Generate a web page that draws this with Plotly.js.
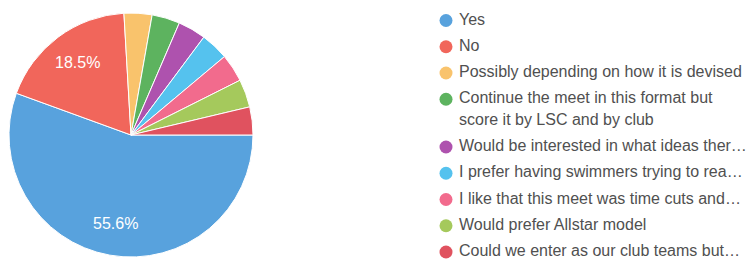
<!DOCTYPE html>
<html>
<head>
<meta charset="utf-8">
<script src="https://cdn.plot.ly/plotly-3.0.1.min.js"></script>
<style>html,body{margin:0;padding:0;background:#fff;}#chart{width:754px;height:259px;}</style>
</head>
<body>
<div id="chart"></div>
<script>
// ---- data ----
const categories = [
  "Yes",
  "No",
  "Possibly depending on how it is devised",
  "Continue the meet in this format but score it by LSC and by club",
  "Would be interested in what ideas there are",
  "I prefer having swimmers trying to reach cuts",
  "I like that this meet was time cuts and...",
  "Would prefer Allstar model",
  "Could we enter as our club teams but..."
];
const legendLabels = [
  "Yes",
  "No",
  "Possibly depending on how it is devised",
  "Continue the meet in this format but<br>score it by LSC and by club",
  "Would be interested in what ideas ther\u2026",
  "I prefer having swimmers trying to rea\u2026",
  "I like that this meet was time cuts and\u2026",
  "Would prefer Allstar model",
  "Could we enter as our club teams but\u2026"
];
const responses = [15, 5, 1, 1, 1, 1, 1, 1, 1];
const colors = ["#58a2dd", "#f1665b", "#f9c36c", "#5db35f", "#ae52ae", "#55c2ee", "#f26b8d", "#a5c95c", "#e0525f"];

// ---- chart ----
const total = responses.reduce((a, b) => a + b, 0);

const W = 754, H = 259;
const cx = 131, cy = 135, R = 122;
const FONT = "Liberation Sans, Arial, sans-serif";
const startDeg = 90;

const pie = {
  type: "pie",
  labels: categories,
  values: responses,
  textinfo: "none",
  marker: {colors: colors, line: {color: "#ffffff", width: 1}},
  sort: false,
  direction: "clockwise",
  rotation: startDeg,
  showlegend: false,
  hoverinfo: "label+percent",
  domain: {x: [(cx - R) / W, (cx + R) / W], y: [(H - cy - R) / H, (H - cy + R) / H]}
};

// percent labels for slices >= 5%, placed along each slice's bisector
const annotations = [];
let cum = 0;
responses.forEach((v, i) => {
  const f = v / total;
  const mid = (startDeg + 360 * (cum + f / 2)) * Math.PI / 180;
  cum += f;
  if (f < 0.05) return;
  const r = 0.74 * R;
  annotations.push({
    xref: "x", yref: "y",
    x: cx + r * Math.sin(mid), y: cy - r * Math.cos(mid),
    text: (100 * f).toFixed(1) + "%", showarrow: false,
    font: {family: FONT, size: 16, color: "#ffffff"}
  });
});

// legend drawn as scatter in pixel-like axes
const legTop = 20.5, rowGap = 26.25, lineGap = 21.5, markerX = 446, textX = 459;
const mY = [], tX = [], tY = [], tT = [];
let extra = 0;
legendLabels.forEach((lab, i) => {
  const y = legTop + rowGap * i + lineGap * extra;
  mY.push(y);
  const lines = lab.split("<br>");
  lines.forEach((ln, k) => { tX.push(textX); tY.push(y + k * lineGap); tT.push(ln); });
  extra += lines.length - 1;
});

const legMarkers = {
  type: "scatter", mode: "markers", xaxis: "x", yaxis: "y",
  x: legendLabels.map(() => markerX), y: mY,
  marker: {color: colors, size: 13, line: {width: 0}},
  showlegend: false, hoverinfo: "skip"
};
const legText = {
  type: "scatter", mode: "text", xaxis: "x", yaxis: "y",
  x: tX, y: tY, text: tT, textposition: "middle right",
  textfont: {family: FONT, size: 16, color: "#505050"},
  showlegend: false, hoverinfo: "skip"
};

const layout = {
  width: W, height: H,
  margin: {l: 0, r: 0, t: 0, b: 0},
  paper_bgcolor: "#ffffff", plot_bgcolor: "rgba(0,0,0,0)",
  xaxis: {domain: [0, 1], range: [0, W], visible: false, fixedrange: true},
  yaxis: {domain: [0, 1], range: [H, 0], visible: false, fixedrange: true},
  showlegend: false,
  annotations: annotations
};

Plotly.newPlot("chart", [pie, legMarkers, legText], layout, {displayModeBar: false, staticPlot: true});
</script>
</body>
</html>
